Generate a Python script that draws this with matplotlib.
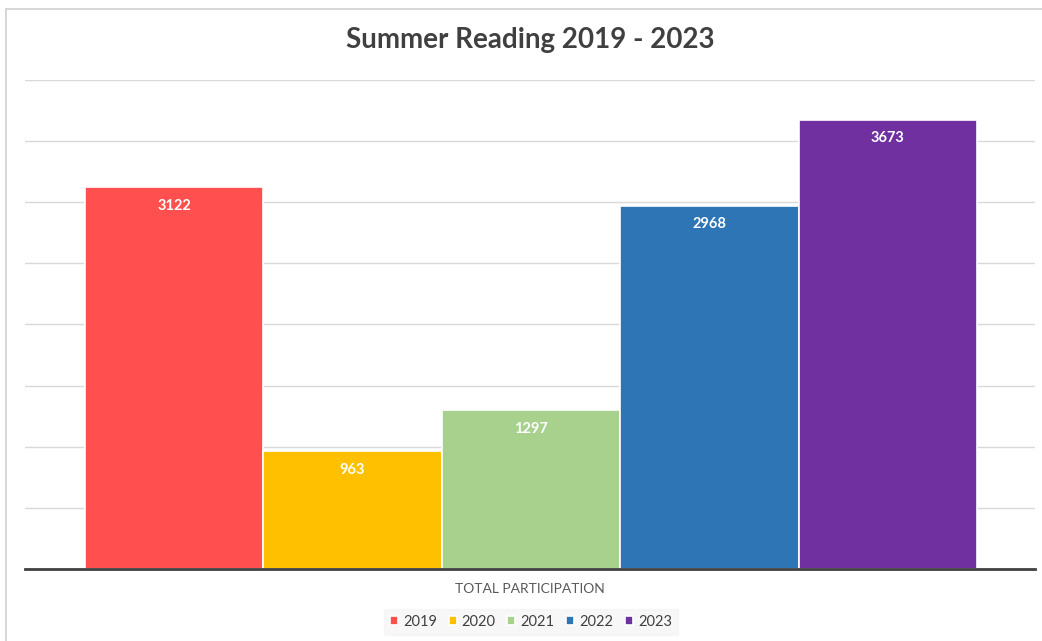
import matplotlib.pyplot as plt
from matplotlib.patches import Rectangle

years = ['2019', '2020', '2021', '2022', '2023']
values = [3122, 963, 1297, 2968, 3673]
colors = ['#ff4f4f', '#ffc000', '#a9d18e', '#2e75b6', '#7030a0']

plt.rcParams['font.family'] = ['Lato', 'DejaVu Sans']

fig = plt.figure(figsize=(10.42, 6.41), dpi=100)
ax = fig.add_axes([25 / 1042, 72 / 641, 1010 / 1042, 489 / 641])

# figure frame (left and top edges visible)
fig.add_artist(Rectangle((6 / 1042, -0.05), 1.2, (641 - 9) / 641 + 0.05,
                         transform=fig.transFigure, fill=False,
                         edgecolor='#d0d0d0', linewidth=1.2))

pos = range(len(years))
bars = ax.bar(pos, values, width=1.0, color=colors, edgecolor='white',
              linewidth=1.2, label=years, zorder=3)

for b, v in zip(bars, values):
    ax.text(b.get_x() + b.get_width() / 2, v - 150, str(v), ha='center',
            va='center', color='white', fontsize=10.5, fontweight='bold', zorder=4)

ax.set_ylim(0, 4000)
ax.set_xlim(-0.5 - 0.336, 4.5 + 0.325)
ax.set_yticks(range(500, 4001, 500))
ax.grid(axis='y', color='#d9d9d9', linewidth=1, zorder=0)
ax.tick_params(left=False, bottom=False, labelleft=False, labelbottom=False)
for s in ['top', 'right', 'left']:
    ax.spines[s].set_visible(False)
ax.spines['bottom'].set_color('#404040')
ax.spines['bottom'].set_linewidth(2)
ax.spines['bottom'].set_zorder(5)

fig.text(530 / 1042, 1 - 589 / 641, 'TOTAL PARTICIPATION', ha='center',
         va='center', fontsize=10, color='#595959')
fig.text(530 / 1042, 1 - 40 / 641, 'Summer Reading 2019 - 2023', ha='center',
         va='center', fontsize=20, fontweight='bold', color='#404040')

leg = fig.legend(handles=list(bars), labels=years, loc='center',
                 bbox_to_anchor=(531 / 1042, 1 - 622 / 641), ncol=5,
                 frameon=True, fontsize=10.5, handlelength=0.55, handleheight=0.55,
                 handletextpad=0.35, columnspacing=0.8, fancybox=False,
                 borderpad=0.4)
leg.get_frame().set_facecolor('#f5f5f5')
leg.get_frame().set_edgecolor('#f5f5f5')
for t in leg.get_texts():
    t.set_color('#404040')

fig.savefig('out.png', dpi=100)
